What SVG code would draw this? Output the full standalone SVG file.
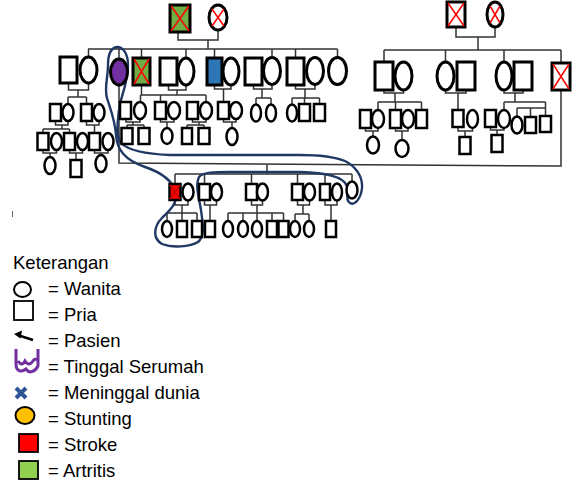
<svg xmlns="http://www.w3.org/2000/svg" width="579" height="481" viewBox="0 0 579 481">
<style>
.n{stroke:#000;stroke-width:3;fill:#fff}
.s{stroke:#000;stroke-width:2.5;fill:#fff}
.l{stroke:#333;stroke-width:1.5;fill:none}
.x{stroke:#ff0000;stroke-width:1.5}
.hh{stroke:#1f3864;stroke-width:2.4;fill:none}
.t{font-family:"Liberation Sans",Arial,sans-serif;font-size:18.5px;fill:#000}
</style>
<rect width="579" height="481" fill="#fff"/>
<g id="connectors">
<path class="l" d="M178,32V40H218V30M208,40V49M88,49H337.5M88.5,49V57M119,49V59M141.5,49V58M186,49V58M214.5,49V58M272,49V57.5M295.5,49V58M337.5,49V57.5"/>
<path class="l" d="M68.5,83V90H88.5V83M78,90V97M68,97H86.5M68,97V104M86.5,97V104M55.5,121V125H68V121M62,125V129M43,129H69.5M43,129V133M69.5,129V133M86.5,121V125H99V121M94.5,125V133M43,150V153H56.5V150M50,153V157M69.5,150V153H82.5V150M76,153V160M94.5,150V153H108V150M101,153V155"/>
<path class="l" d="M168.5,85V90H186V85M177,90V95M141.5,85V95M140.5,95V102M140.5,95H206M160.5,95V102M206,95V102M214.5,85V89H231V85M223.5,89V102M253.5,85V89H272V84.5M262,89V98M256,98H271M256,98V104.5M271,98V104.5M295.5,85V89H315V84.5M305,89V98M292,98H319.5M292,98V104.5M304.5,98V104M319.5,98V104"/>
<path class="l" d="M126,119V122H140V119M133,122V125M127,125H144M127,125V128M144,125V128M160.5,119V122H174V119M167,122V128M192.5,119V122H206V119M199,122V125M187,125H204M187,125V128M204,125V128M223.5,119V122H236V119M232,122V128"/>
<path class="l" d="M119,85V163L561,166V90M267,164.5V174M175,174H352M175,174V184M204.5,174V184M251.5,174V184M297.5,174V184M325,174V184M352,174V181.5"/>
<path class="l" d="M175,200V205H188V200.5M182,205V213M167,213H197M167,213V221M182,213V221M197,213V221M204.5,200V205H216.5V200.5M210,205V221M251.5,200V205H262.5V200.5M257,205V213M228,213H283.5M228,213V221M243,213V221M257,213V221M272,213V221M283.5,213V221M297.5,200V205H309.5V200.5M303,205V214M295,214H309M295,214V221M309,214V221M325,200V205H337V200M331,205V221"/>
<path class="l" d="M456,27V37H495V27M478,37V50M384,50H561M384,50V62M445.5,50V62M504,50V62M561,50V63M384,90V93H403.5V90M395,93V102M378,102H421.5M378,102V110M395.5,102V110M421.5,102V110M445.5,90V93H466V90M458,93V110M504,90V93H523V90M515,93V102M504,102H545.5M504,102V110M517,108H545.5M517,108V116.5M530.5,108V117M545.5,102V116"/>
<path class="l" d="M365.5,128V131H378V128M373,131V136.5M395.5,128V131H408V128M402,131V140M458,127V131H472.5V128M465,131V137M490.5,127V130H504V128M497,130V135"/>
<path class="hh" d="M117,47C110,48 108,55 108,65C108,78 104,88 107,98C110,108 115,120 116,135C117,150 125,160 145,167C160,172 172,180 176,192C178,203 170,210 162,218C154,226 152,238 162,244C172,248 190,247 198,242C205,236 203,225 201,210C199,198 195,185 199,177C203,172 215,172 230,172L300,172C325,173 343,176 347,186C349,195 345,200 350,203C355,206 361,198 362,188C363,176 355,166 345,161C335,157 320,155 300,155L170,155C145,154 128,150 121,143C115,135 118,112 121,100C124,90 128,78 128,65C128,55 124,47 117,47Z"/>
</g>
<g id="gp1"><rect class="n" x="170" y="5" width="20" height="27" style="fill:#70ad47"/><path class="x" d="M171,6L189,31M189,6L171,31"/></g>
<g id="gp2"><ellipse class="n" cx="218" cy="17.5" rx="9" ry="12.5"/><path class="x" d="M212,9L224,26M224,9L212,26"/></g>
<g id="gp3"><rect class="n" x="447" y="2" width="18" height="25"/><path class="x" d="M448,3L464,26M464,3L448,26"/></g>
<g id="gp4"><ellipse class="n" cx="495" cy="14.5" rx="8" ry="12.5"/><path class="x" d="M490,6L500,23M500,6L490,23"/></g>
<g id="l2a"><rect class="n" x="60" y="57" width="17" height="26"/></g>
<g id="l2b"><ellipse class="n" cx="88.5" cy="70" rx="8.5" ry="13"/></g>
<g id="purple"><ellipse class="n" cx="119" cy="72" rx="8.5" ry="13" style="fill:#7030a0"/></g>
<g id="green"><rect class="n" x="133" y="58" width="17" height="27" style="fill:#70ad47"/><path class="x" d="M134,59L149,84M149,59L134,84"/></g>
<g id="m2a"><rect class="n" x="160" y="58" width="17" height="27"/></g>
<g id="m2b"><ellipse class="n" cx="186" cy="71.5" rx="8" ry="13.5"/></g>
<g id="blue"><rect class="n" x="207" y="58" width="15" height="27" style="fill:#2e75b6"/></g>
<g id="m2c"><ellipse class="n" cx="231" cy="71.5" rx="8" ry="13.5"/></g>
<g id="m2d"><rect class="n" x="245" y="58" width="17" height="27"/></g>
<g id="m2e"><ellipse class="n" cx="272" cy="71" rx="8.5" ry="13.5"/></g>
<g id="m2f"><rect class="n" x="287" y="58" width="17" height="27"/></g>
<g id="m2g"><ellipse class="n" cx="315" cy="71" rx="8.5" ry="13.5"/></g>
<g id="m2h"><ellipse class="n" cx="337.5" cy="71" rx="9" ry="13.5"/></g>
<g id="r2a"><rect class="n" x="375" y="62" width="18" height="28"/></g>
<g id="r2b"><ellipse class="n" cx="403.5" cy="76" rx="8.5" ry="14"/></g>
<g id="r2c"><ellipse class="n" cx="445.5" cy="76" rx="8.5" ry="14"/></g>
<g id="r2d"><rect class="n" x="457" y="62" width="18" height="28"/></g>
<g id="r2e"><ellipse class="n" cx="504" cy="76" rx="8" ry="14"/></g>
<g id="r2f"><rect class="n" x="514" y="62" width="18" height="28"/></g>
<g id="r2g"><rect class="n" x="552" y="63" width="18" height="27"/><path class="x" d="M553,64L569,89M569,64L553,89"/></g>
<g id="left3">
<rect class="s" x="50" y="104" width="11" height="17"/><ellipse class="s" cx="68" cy="112.5" rx="5.5" ry="8.5"/>
<rect class="s" x="81" y="104" width="11" height="17"/><ellipse class="s" cx="99" cy="112.5" rx="5.5" ry="8.5"/>
<rect class="s" x="37.5" y="133" width="11" height="17"/><ellipse class="s" cx="56.5" cy="141.5" rx="5.5" ry="8.5"/>
<rect class="s" x="64" y="133" width="11" height="17"/><ellipse class="s" cx="82.5" cy="141.5" rx="5.5" ry="8.5"/>
<rect class="s" x="89" y="133" width="11" height="17"/><ellipse class="s" cx="108" cy="141.5" rx="5.5" ry="8.5"/>
<ellipse class="s" cx="50" cy="165.5" rx="5.5" ry="8.5"/><rect class="s" x="70.5" y="160" width="11" height="17"/><ellipse class="s" cx="101" cy="163.5" rx="5.5" ry="8.5"/>
</g>
<g id="mid3">
<rect class="s" x="120" y="102" width="11" height="17"/><ellipse class="s" cx="140" cy="110.5" rx="6" ry="8.5"/>
<rect class="s" x="155" y="102" width="11" height="17"/><ellipse class="s" cx="174" cy="110.5" rx="6" ry="8.5"/>
<rect class="s" x="187" y="102" width="11" height="17"/><ellipse class="s" cx="206" cy="110.5" rx="6" ry="8.5"/>
<rect class="s" x="218" y="102" width="11" height="17"/><ellipse class="s" cx="236" cy="110.5" rx="6" ry="8.5"/>
<rect class="s" x="121.5" y="128" width="11" height="16"/><rect class="s" x="138.5" y="128" width="11" height="16"/>
<ellipse class="s" cx="167" cy="136" rx="5.5" ry="8"/>
<rect class="s" x="182" y="128" width="10" height="16"/><rect class="s" x="198.5" y="128" width="11" height="16"/>
<ellipse class="s" cx="232" cy="136.5" rx="5.5" ry="8.5"/>
<ellipse class="s" cx="256" cy="113" rx="5" ry="8.5"/><ellipse class="s" cx="271" cy="113" rx="5" ry="8.5"/>
<ellipse class="s" cx="292" cy="113" rx="5" ry="8.5"/><rect class="s" x="299" y="104" width="11" height="17"/><rect class="s" x="314" y="104" width="11" height="17"/>
</g>
<g id="right3">
<rect class="s" x="360" y="110" width="11" height="18"/><ellipse class="s" cx="378" cy="119" rx="6" ry="9"/>
<rect class="s" x="390" y="110" width="11" height="18"/><ellipse class="s" cx="408" cy="119" rx="6" ry="9"/>
<rect class="s" x="416" y="110" width="11" height="18"/>
<rect class="s" x="452.5" y="110" width="11" height="17"/><ellipse class="s" cx="472.5" cy="119" rx="5.5" ry="9"/>
<rect class="s" x="485" y="110" width="11" height="17"/><ellipse class="s" cx="504" cy="119" rx="6" ry="9"/>
<ellipse class="s" cx="517" cy="125" rx="5.5" ry="8.5"/><rect class="s" x="525" y="117" width="11" height="16"/><rect class="s" x="540" y="116" width="11" height="16"/>
<ellipse class="s" cx="373" cy="145" rx="6" ry="8.5"/><ellipse class="s" cx="402" cy="148.5" rx="6.5" ry="8.5"/>
<rect class="s" x="459.5" y="137" width="11" height="17"/><rect class="s" x="491.5" y="135" width="11" height="17"/>
</g>
<g id="bottom3">
<rect class="s" x="169.5" y="184" width="11" height="16" style="fill:#ff0000"/><path d="M170,185L180,199M180,185L170,199" stroke="#c00000" stroke-width="1.5"/>
<ellipse class="s" cx="188" cy="192" rx="5.5" ry="8.5"/>
<rect class="s" x="199" y="184" width="11" height="16"/><ellipse class="s" cx="216.5" cy="192" rx="5.5" ry="8.5"/>
<rect class="s" x="246" y="184" width="11" height="16"/><ellipse class="s" cx="262.5" cy="192" rx="5.5" ry="8.5"/>
<rect class="s" x="292" y="184" width="11" height="16"/><ellipse class="s" cx="309.5" cy="192" rx="5.5" ry="8.5"/>
<rect class="s" x="320" y="184" width="10" height="16"/><ellipse class="s" cx="337" cy="192" rx="5" ry="8.5"/>
<ellipse class="s" cx="352" cy="190" rx="5.5" ry="8.5"/>
</g>
<g id="bottom4">
<ellipse class="s" cx="167" cy="229" rx="5" ry="8"/><rect class="s" x="177" y="221" width="10" height="16"/><rect class="s" x="192" y="221" width="10" height="16"/><rect class="s" x="205" y="221" width="10" height="16"/>
<ellipse class="s" cx="228" cy="229" rx="5" ry="8"/><ellipse class="s" cx="243" cy="229" rx="5" ry="8"/><ellipse class="s" cx="257" cy="229" rx="5" ry="8"/>
<rect class="s" x="267" y="221" width="10" height="16"/><rect class="s" x="278.5" y="221" width="10" height="16"/>
<ellipse class="s" cx="295" cy="229" rx="5" ry="8"/><ellipse class="s" cx="309" cy="229" rx="5" ry="8"/>
<rect class="s" x="326" y="221" width="10" height="16"/>
</g>
<line x1="12.5" y1="211" x2="12.5" y2="217" stroke="#666" stroke-width="1"/>
<g id="legend">
<text class="t" x="13" y="269">Keterangan</text>
<ellipse cx="22.5" cy="289.5" rx="8.5" ry="7.5" fill="#fff" stroke="#000" stroke-width="2"/>
<text class="t" x="48" y="295">= Wanita</text>
<rect x="14" y="301" width="19" height="19" fill="#fff" stroke="#000" stroke-width="1.8"/>
<text class="t" x="48" y="321">= Pria</text>
<line x1="33" y1="340" x2="19" y2="335.5" stroke="#000" stroke-width="2.5"/>
<polygon points="14,334 22,330.5 20.5,338.5" fill="#000"/>
<text class="t" x="48" y="347">= Pasien</text>
<path d="M16,349V364C16,371 21,373 26,369C29,374 35,372 38,366V349M18,361Q22,367 25,361Q29,367 33,361Q35,358 37,360" fill="none" stroke="#7030a0" stroke-width="3"/>
<text class="t" x="48" y="373">= Tinggal Serumah</text>
<path d="M16,388L26,398M26,388L16,398" stroke="#2f5597" stroke-width="4"/>
<text class="t" x="48" y="399">= Meninggal dunia</text>
<ellipse cx="25" cy="415.5" rx="9.5" ry="8.5" fill="#ffc000" stroke="#000" stroke-width="2"/>
<text class="t" x="48" y="425">= Stunting</text>
<rect x="19" y="434" width="19" height="18" fill="#ff0000" stroke="#000" stroke-width="1.8"/>
<text class="t" x="48" y="451">= Stroke</text>
<rect x="19" y="461" width="19" height="18" fill="#92d050" stroke="#000" stroke-width="1.8"/>
<text class="t" x="48" y="477">= Artritis</text>
</g>
</svg>
